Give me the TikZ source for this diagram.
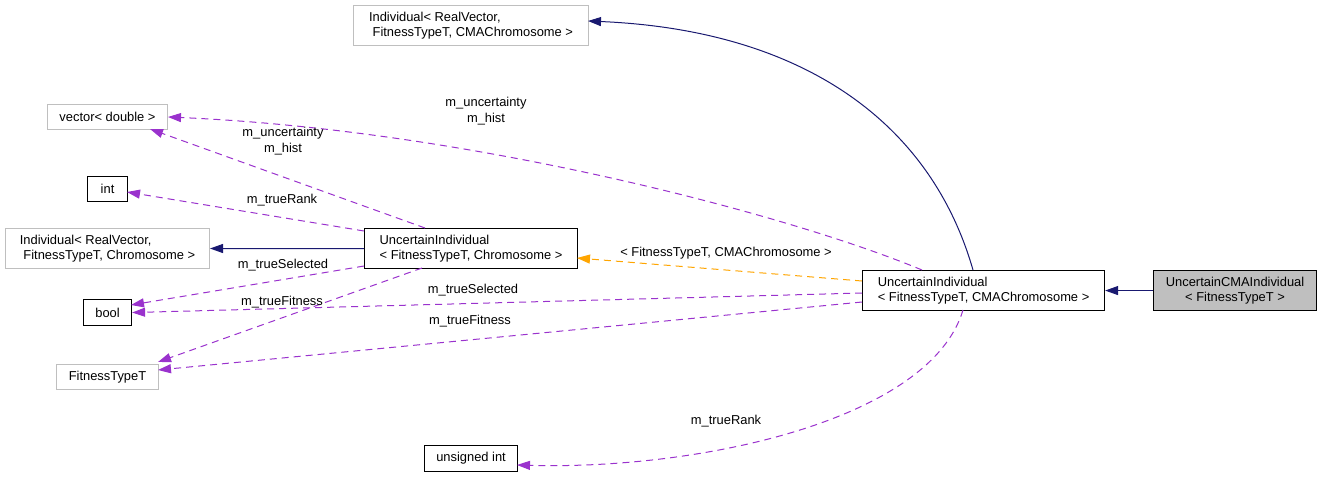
\documentclass[tikz,border=0pt]{standalone}
\usepackage{fontspec}
\setmainfont{Liberation Sans}
\usetikzlibrary{arrows.meta,calc}
\definecolor{navy}{HTML}{191970}
\definecolor{purp}{HTML}{9A32CD}
\definecolor{orng}{HTML}{FFA500}
\definecolor{grayb}{HTML}{BFBFBF}
\begin{document}
\begin{tikzpicture}[x=1pt,y=-1pt,
  every node/.style={font=\fontsize{12.9pt}{15.5pt}\selectfont, inner sep=0pt},
  cls/.style={draw=black, line width=1.1pt, anchor=north west, align=left},
  ext/.style={draw=grayb, line width=1pt, anchor=north west, align=left},
  cur/.style={draw=black, line width=1.1pt, fill=grayb, anchor=north west, align=center},
  inh/.style={draw=navy, line width=1pt, -{Triangle[length=13pt,width=9pt]}},
  use/.style={draw=purp, line width=1pt, dash pattern=on 7pt off 5pt, -{Triangle[length=13pt,width=9pt]}},
  tmpl/.style={draw=orng, line width=1pt, dash pattern=on 7pt off 5pt, -{Triangle[length=13pt,width=9pt]}},
  lbl/.style={align=center}]
\useasboundingbox (0,0) rectangle (1321,477);

% nodes
\node[cur, minimum width=163pt, minimum height=40pt] (UCMAI) at (1153,270) {UncertainCMAIndividual\\{< FitnessTypeT >}};
\node[cls, minimum width=242pt, minimum height=40pt] (UICMA) at (862,270) {UncertainIndividual\\{< FitnessTypeT, CMAChromosome >}};
\node[ext, minimum width=235pt, minimum height=40pt] (IndCMA) at (353,5) {Individual< RealVector,\\\hspace*{3.6pt}FitnessTypeT, CMAChromosome >};
\node[cls, minimum width=213pt, minimum height=40pt] (UI) at (364,228) {UncertainIndividual\\{< FitnessTypeT, Chromosome >}};
\node[ext, minimum width=204pt, minimum height=40pt] (IndChrom) at (5,228) {Individual< RealVector,\\\hspace*{3.6pt}FitnessTypeT, Chromosome >};
\node[ext, minimum width=120pt, minimum height=25pt] (vec) at (47,104) {vector< double >};
\node[cls, minimum width=40pt, minimum height=25pt] (int) at (87,176) {int};
\node[cls, minimum width=48pt, minimum height=26pt] (bool) at (83,299) {bool};
\node[ext, minimum width=102pt, minimum height=25pt] (FT) at (56,364) {FitnessTypeT};
\node[cls, minimum width=93pt, minimum height=26pt] (uint) at (424,445) {unsigned int};

% inheritance
\draw[inh] (UCMAI.west) -- (UICMA.east);
\draw[inh] ($(UICMA.north west)+(111,0)$) .. controls (930,120) and (800,30) .. ($(IndCMA.north west)+(235,16)$);
\draw[inh] (UI.west) -- (IndChrom.east);

% template instance
\draw[tmpl] ($(UICMA.north west)+(0,11)$) -- ($(UI.north west)+(213,30)$);

% usage
\draw[use] ($(UICMA.north west)+(60,0)$) .. controls (790,215) and (470,130) .. (vec.east);
\draw[use] ($(UI.north west)+(61,0)$) -- ($(vec.north west)+(103,25)$);
\draw[use] ($(UI.north west)+(0,3)$) -- ($(int.north west)+(40,16)$);
\draw[use] ($(UI.north west)+(0,38)$) -- ($(bool.north west)+(48,6)$);
\draw[use] ($(UI.north west)+(58,40)$) -- ($(FT.north west)+(102,-2)$);
\draw[use] ($(UICMA.north west)+(0,23)$) -- (bool.east);
\draw[use] ($(UICMA.north west)+(0,32)$) -- ($(FT.north west)+(102,6)$);
\draw[use] ($(UICMA.north west)+(101,40)$) .. controls (930,420) and (700,470) .. ($(uint.north west)+(93,20)$);

% labels
\node[lbl] (l1) at (486,111) {m\_uncertainty\\m\_hist};
\node[lbl] (l2) at (283,141) {m\_uncertainty\\m\_hist};
\node[lbl] (l3) at (282,200) {m\_trueRank};
\node[lbl] (l4) at (283,265) {m\_trueSelected};
\node[lbl] (l5) at (282,302) {m\_trueFitness};
\node[lbl] (l6) at (473,290) {m\_trueSelected};
\node[lbl] (l7) at (470,321) {m\_trueFitness};
\node[lbl] (l8) at (726,421) {m\_trueRank};
\node[lbl] (l9) at (726,253) {< FitnessTypeT, CMAChromosome >};
\end{tikzpicture}
\end{document}
